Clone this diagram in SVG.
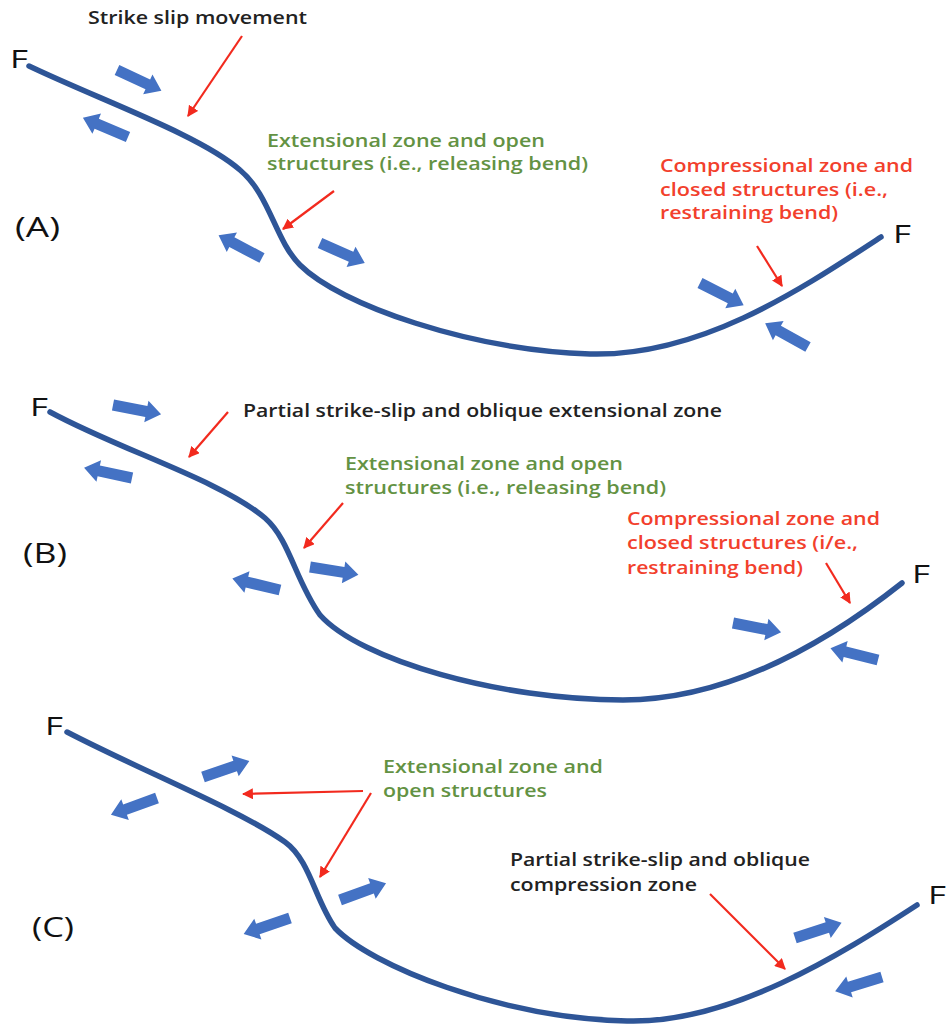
<svg xmlns="http://www.w3.org/2000/svg" xmlns:xlink="http://www.w3.org/1999/xlink" width="946" height="1024" viewBox="0 0 946 1024">
<style>
.fault{fill:none;stroke:#2E5597;stroke-width:5.5;stroke-linecap:round}
.blk{fill:#4472C4}
.ptr{fill:none;stroke:#F22A1E;stroke-width:2.2;marker-end:url(#rh)}
text{font-family:"Open Sans","Liberation Sans",sans-serif}
.lbl{font-size:18.5px;font-weight:600;fill:#222}
.grn{font-size:18.5px;font-weight:600;fill:#639243}
.red{font-size:18.5px;font-weight:600;fill:#F2402C}
.F{font-size:26px;fill:#111}
.pan{font-size:28px;fill:#111}
</style>
<defs>
<path id="ba" d="M0,-5.5 L34,-5.5 L34,-11 L49,0 L34,11 L34,5.5 L0,5.5 Z"/>
<marker id="rh" viewBox="0 0 10 10" refX="9" refY="5" markerWidth="5" markerHeight="5" orient="auto" markerUnits="strokeWidth">
<path d="M0,0 L10,5 L0,10 Z" fill="#F22A1E"/>
</marker>
</defs>

<g id="panel-A">
<path id="faultA" class="fault" d="M29,66 C100,100 200,135 240,170 C270,195 275,240 300,265 C340,305 470,350 590,354 C700,357 800,290 881,237"/>
<g id="arrowsA" class="blk">
<use xlink:href="#ba" transform="translate(117,70) rotate(25)"/>
<use xlink:href="#ba" transform="translate(128,137) rotate(203)"/>
<use xlink:href="#ba" transform="translate(262,258) rotate(207.6)"/>
<use xlink:href="#ba" transform="translate(320,243) rotate(24)"/>
<use xlink:href="#ba" transform="translate(700,283) rotate(27)"/>
<use xlink:href="#ba" transform="translate(808,347) rotate(209)"/>
</g>
<text class="F" x="10" y="68" textLength="18" lengthAdjust="spacingAndGlyphs">F</text>
<text class="F" x="893" y="243" textLength="18" lengthAdjust="spacingAndGlyphs">F</text>
<text class="pan" x="15" y="237" textLength="45" lengthAdjust="spacingAndGlyphs">(A)</text>
<text class="lbl" x="88" y="24" textLength="219" lengthAdjust="spacingAndGlyphs">Strike slip movement</text>
<text class="grn" x="267" y="147" textLength="278" lengthAdjust="spacingAndGlyphs">Extensional zone and open</text>
<text class="grn" x="267" y="170" textLength="321" lengthAdjust="spacingAndGlyphs">structures (i.e., releasing bend)</text>
<text class="red" x="660" y="172" textLength="253" lengthAdjust="spacingAndGlyphs">Compressional zone and</text>
<text class="red" x="660" y="196" textLength="228" lengthAdjust="spacingAndGlyphs">closed structures (i.e.,</text>
<text class="red" x="660" y="219" textLength="178" lengthAdjust="spacingAndGlyphs">restraining bend)</text>
</g>

<g id="panel-B">
<path id="faultB" class="fault" d="M50,412 C120,450 220,480 265,518 C290,540 295,580 320,615 C360,660 500,700 623,700 C730,700 830,640 902,583"/>
<g id="arrowsB" class="blk">
<use xlink:href="#ba" transform="translate(113,405) rotate(11)"/>
<use xlink:href="#ba" transform="translate(132,478) rotate(192)"/>
<use xlink:href="#ba" transform="translate(280,590) rotate(193.5)"/>
<use xlink:href="#ba" transform="translate(310,567) rotate(9)"/>
<use xlink:href="#ba" transform="translate(733,623) rotate(11)"/>
<use xlink:href="#ba" transform="translate(878,660) rotate(194)"/>
</g>
<text class="F" x="30" y="416" textLength="18" lengthAdjust="spacingAndGlyphs">F</text>
<text class="F" x="912" y="583" textLength="18" lengthAdjust="spacingAndGlyphs">F</text>
<text class="pan" x="23" y="563" textLength="44" lengthAdjust="spacingAndGlyphs">(B)</text>
<text class="lbl" x="243" y="417" textLength="479" lengthAdjust="spacingAndGlyphs">Partial strike-slip and oblique extensional zone</text>
<text class="grn" x="345" y="470" textLength="278" lengthAdjust="spacingAndGlyphs">Extensional zone and open</text>
<text class="grn" x="345" y="494" textLength="321" lengthAdjust="spacingAndGlyphs">structures (i.e., releasing bend)</text>
<text class="red" x="627" y="525" textLength="253" lengthAdjust="spacingAndGlyphs">Compressional zone and</text>
<text class="red" x="627" y="549" textLength="231" lengthAdjust="spacingAndGlyphs">closed structures (i/e.,</text>
<text class="red" x="627" y="574" textLength="176" lengthAdjust="spacingAndGlyphs">restraining bend)</text>
</g>

<g id="panel-C">
<path id="faultC" class="fault" d="M67,732 C140,770 240,810 285,842 C310,860 315,900 335,928 C370,965 500,1018 627,1021 C730,1024 840,955 917,905"/>
<g id="arrowsC" class="blk">
<use xlink:href="#ba" transform="translate(203,777) rotate(-19)"/>
<use xlink:href="#ba" transform="translate(157,798) rotate(160)"/>
<use xlink:href="#ba" transform="translate(340,900) rotate(-20)"/>
<use xlink:href="#ba" transform="translate(290,918) rotate(161)"/>
<use xlink:href="#ba" transform="translate(795,938) rotate(-18)"/>
<use xlink:href="#ba" transform="translate(882,977) rotate(163)"/>
</g>
<text class="F" x="45" y="735" textLength="18" lengthAdjust="spacingAndGlyphs">F</text>
<text class="F" x="928" y="904" textLength="18" lengthAdjust="spacingAndGlyphs">F</text>
<text class="pan" x="32" y="937" textLength="42" lengthAdjust="spacingAndGlyphs">(C)</text>
<text class="grn" x="383" y="773" textLength="220" lengthAdjust="spacingAndGlyphs">Extensional zone and</text>
<text class="grn" x="383" y="797" textLength="164" lengthAdjust="spacingAndGlyphs">open structures</text>
<text class="lbl" x="510" y="866" textLength="300" lengthAdjust="spacingAndGlyphs">Partial strike-slip and oblique</text>
<text class="lbl" x="510" y="891" textLength="187" lengthAdjust="spacingAndGlyphs">compression zone</text>
</g>

<g id="connectors">
<line class="ptr" x1="242" y1="36" x2="188" y2="116"/>
<line class="ptr" x1="334" y1="191" x2="283" y2="229"/>
<line class="ptr" x1="757" y1="246" x2="782" y2="286"/>
<line class="ptr" x1="228" y1="412" x2="189" y2="457"/>
<line class="ptr" x1="343" y1="503" x2="304" y2="548"/>
<line class="ptr" x1="826" y1="563" x2="850" y2="603"/>
<line class="ptr" x1="363" y1="791" x2="243" y2="794"/>
<line class="ptr" x1="371" y1="793" x2="320" y2="877"/>
<line class="ptr" x1="710" y1="894" x2="785" y2="969"/>
</g>
</svg>
